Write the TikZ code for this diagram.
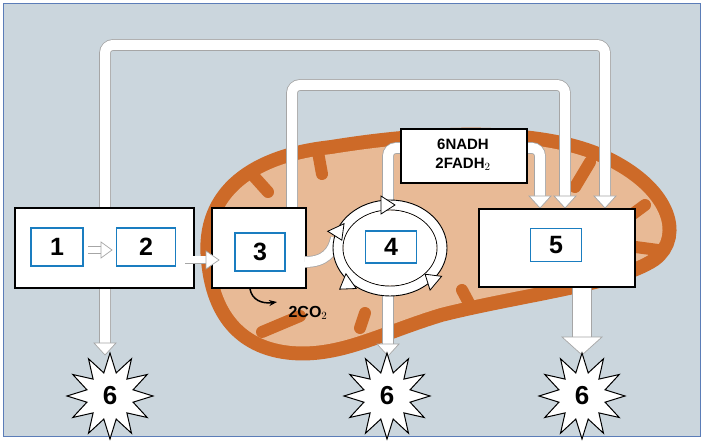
\documentclass[tikz,border=0pt]{standalone}
\usepackage{fontspec}
\setmainfont{Liberation Sans}
\usetikzlibrary{shapes.geometric,arrows.meta}
\definecolor{bg}{HTML}{CBD6DD}
\definecolor{frame}{HTML}{5B7DB8}
\definecolor{mito}{HTML}{CD6A28}
\definecolor{mlight}{HTML}{E8BA96}
\definecolor{ibox}{HTML}{1A7DC0}
\tikzset{
  box/.style={draw=black,line width=2pt,fill=white},
  ibx/.style={draw=ibox,line width=1.8pt,fill=white,font=\fontsize{25}{27}\selectfont\bfseries,inner sep=0pt},
  pipe/.style={draw=gray!70,line width=0.8pt,double=white,double distance=10pt,rounded corners=8pt},
  head/.style={draw=gray!70,fill=white,line width=0.7pt},
  burst/.style={star,star points=12,star point ratio=1.8,minimum size=86pt,draw=black,fill=white,line width=1pt,font=\fontsize{26}{28}\selectfont\bfseries,inner sep=0pt},
  crista/.style={mito,line width=12pt,line cap=round}
}
\newcommand\dnhead[4]{\draw[head] (#1-#3,#2-#4)--(#1+#3,#2-#4)--(#1,#2)--cycle;}
\newcommand\ringhead[3]{\begin{scope}[shift={(#1,#2)},rotate=#3]\draw[fill=white,line width=0.8pt] (-5,-9)--(9,0)--(-5,9)--cycle;\end{scope}}
\begin{document}
\begin{tikzpicture}[x=1pt,y=-1pt]
\useasboundingbox (0,0) rectangle (704,446);
\fill[bg] (3,3) rectangle (700,436);
\draw[frame,line width=0.8pt] (3,3) rectangle (700,436);
% mitochondrion
\def\mpath{(215,260) .. controls (208,195) and (258,162) .. (332,154) .. controls (430,138) and (540,134) .. (603,164) .. controls (662,192) and (676,235) .. (650,254) .. controls (613,278) and (520,288) .. (440,308) .. controls (380,326) and (340,350) .. (292,346) .. controls (248,342) and (220,315) .. (215,260) -- cycle}
\draw[mito,line width=28pt] \mpath;
\fill[mlight] \mpath;
\foreach \a/\b in {{(250,172)}/{(268,192)},{(318,152)}/{(322,174)},{(590,162)}/{(575,187)},{(645,205)}/{(622,222)},{(658,250)}/{(628,246)},{(262,332)}/{(300,316)},{(470,305)}/{(462,290)},{(360,328)}/{(365,313)}}
  \draw[crista] \a -- \b;
% pipes
\draw[pipe] (105,345) -- (105,45) -- (605,45) -- (605,197);
\dnhead{105}{355}{11}{12}
\dnhead{605}{208}{11}{12}
\draw[pipe] (292,207) -- (292,85) -- (565,85) -- (565,197);
\dnhead{565}{208}{11}{12}
\draw[pipe] (400,148) -- (388,148) -- (388,202);
\draw[pipe] (527,148) -- (540,148) -- (540,197);
\dnhead{540}{208}{11}{12}
\draw[pipe] (388,292) -- (388,345);
\dnhead{388}{356}{11}{12}
\draw[draw=gray!70,line width=0.8pt,double=white,double distance=18pt] (582,286) -- (582,338);
\dnhead{582}{355}{20}{18}
% boxes
\node[box,minimum width=126pt,minimum height=54pt,anchor=north west] (nadh) at (400,128) {};
\node[font=\fontsize{15}{17}\selectfont\bfseries,align=center] (nadht) at (463,155) {6NADH\\[2pt]2FADH$_2$};
\node[box,minimum width=179pt,minimum height=80pt,anchor=north west] (boxA) at (14,207) {};
\node[box,minimum width=94pt,minimum height=80pt,anchor=north west] (box3) at (211,207) {};
\node[box,minimum width=156pt,minimum height=78pt,anchor=north west] (box5) at (478,208) {};
% small arrows
\draw[draw=gray!70,line width=0.7pt,double=white,double distance=6pt] (88,250) -- (102,250);
\draw[head] (101,242)--(112,250)--(101,258)--cycle;
\draw[draw=gray!70,line width=0.7pt,double=white,double distance=7pt] (185,260) -- (207,260);
\draw[head] (206,251)--(219,260)--(206,269)--cycle;
% cycle 4
\draw[pipe,rounded corners=0pt] (305,262) .. controls (325,262) and (333,252) .. (336,238);
\draw[fill=white,line width=0.9pt,even odd rule] (390,248) ellipse [x radius=57,y radius=48] (390,248) ellipse [x radius=47,y radius=38];
\fill[white] (390,248) ellipse [x radius=46.5,y radius=37.5];
\ringhead{386}{205}{0}
\ringhead{432}{280}{140}
\ringhead{347}{284}{215}
\ringhead{338}{232}{295}
% inner boxes
\node[ibx,minimum width=52pt,minimum height=38pt] (n1) at (57,247) {1};
\node[ibx,minimum width=59pt,minimum height=38pt] (n2) at (146,247) {2};
\node[ibx,minimum width=50pt,minimum height=38pt] (n3) at (260,252) {3};
\node[ibx,minimum width=51pt,minimum height=32pt] (n4) at (391,247) {4};
\node[ibx,minimum width=51pt,minimum height=33pt] (n5) at (556,245) {5};
% CO2
\draw[line width=1.5pt,-{Stealth[length=8pt]}] (250,289) .. controls (252,300) and (262,304) .. (277,302);
\node[font=\fontsize{16}{18}\selectfont\bfseries] (co2) at (308,313) {2CO$_2$};
% bursts
\node[burst] (s1) at (110,396) {6};
\node[burst] (s2) at (387,396) {6};
\node[burst] (s3) at (582,396) {6};
\end{tikzpicture}
\end{document}
